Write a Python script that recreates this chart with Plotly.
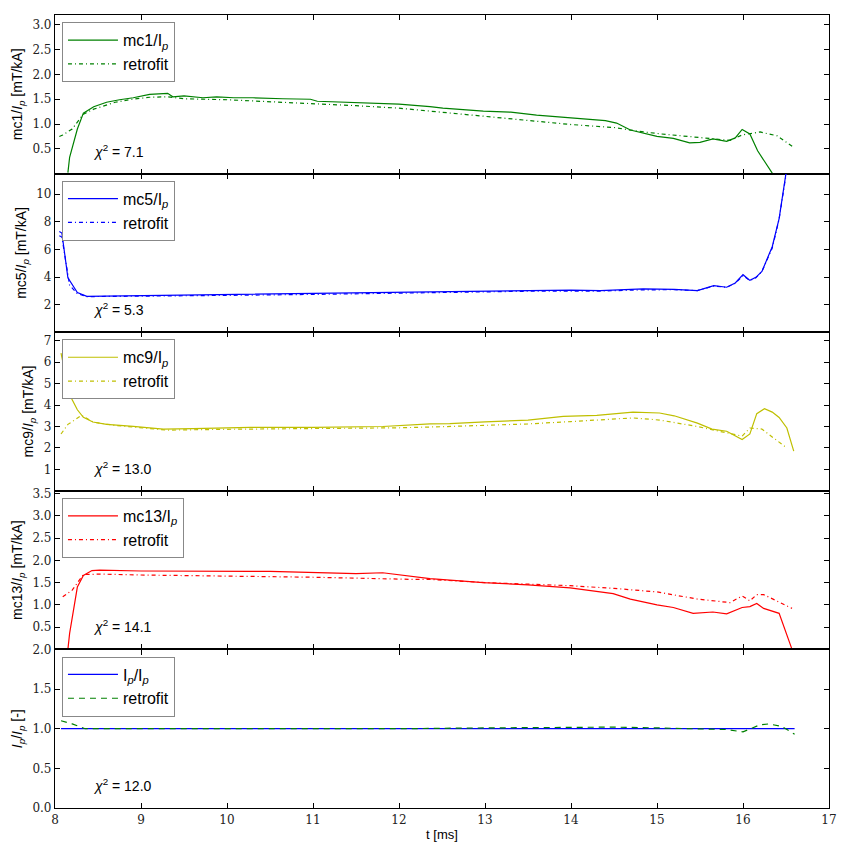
import plotly.graph_objects as go
from plotly.subplots import make_subplots

# ---------------- data ----------------
mc1_t = [8.15, 8.17, 8.26, 8.33, 8.45, 8.6, 8.75, 8.91, 9.1, 9.22, 9.31, 9.37, 9.5, 9.72, 9.88, 10.08,
         10.3, 10.65, 10.97, 11.05, 11.4, 11.82, 12.0, 12.36, 12.51, 12.98, 13.3, 13.6, 13.99, 14.2,
         14.4, 14.53, 14.69, 15.0, 15.19, 15.38, 15.5, 15.65, 15.81, 15.91, 15.99, 16.08, 16.17, 16.34]
mc1_v = [0.02, 0.33, 0.9, 1.22, 1.35, 1.44, 1.49, 1.53, 1.6, 1.61, 1.62, 1.55, 1.57, 1.53, 1.55, 1.53,
         1.53, 1.51, 1.5, 1.46, 1.44, 1.42, 1.4, 1.35, 1.32, 1.26, 1.24, 1.18, 1.12, 1.1,
         1.07, 1.02, 0.88, 0.75, 0.71, 0.62, 0.63, 0.7, 0.65, 0.72, 0.89, 0.8, 0.46, 0.01]
fit1_t = [8.05, 8.09, 8.2, 8.33, 8.45, 8.7, 8.9, 9.1, 9.3, 9.5, 10.0, 10.27, 10.6, 11.0, 11.5, 12.0,
          12.36, 12.9, 13.5, 14.0, 14.5, 14.69, 14.8, 15.05, 15.45, 15.65, 15.85, 15.99, 16.2, 16.4, 16.58]
fit1_v = [0.75, 0.78, 0.9, 1.2, 1.3, 1.44, 1.5, 1.54, 1.55, 1.51, 1.49, 1.47, 1.45, 1.41, 1.37, 1.32,
          1.26, 1.16, 1.07, 0.99, 0.93, 0.88, 0.85, 0.8, 0.74, 0.71, 0.67, 0.78, 0.84, 0.76, 0.54]

mc5_t = [8.05, 8.08, 8.15, 8.26, 8.37, 8.6, 9.0, 9.3, 10.0, 11.0, 12.0, 13.0, 13.5, 14.0, 14.34,
         14.84, 15.2, 15.47, 15.66, 15.81, 15.91, 16.0, 16.08, 16.15, 16.22, 16.34, 16.42, 16.5, 16.56]
mc5_v = [7.3, 7.19, 3.95, 2.88, 2.6, 2.62, 2.66, 2.68, 2.7, 2.78, 2.9, 3.0, 3.02, 3.05, 3.02,
         3.14, 3.1, 3.02, 3.38, 3.26, 3.57, 4.17, 3.76, 3.98, 4.41, 6.2, 8.24, 11.5, 14.0]
fit5_t = [8.05, 8.08, 8.17, 8.26, 8.37, 8.6, 9.0, 9.3, 10.0, 11.0, 12.0, 13.0, 13.5, 14.0, 14.34,
          14.84, 15.2, 15.47, 15.66, 15.81, 15.91, 16.0, 16.08, 16.15, 16.22, 16.34, 16.42, 16.5, 16.56]
fit5_v = [7.0, 6.9, 3.4, 2.8, 2.58, 2.6, 2.63, 2.65, 2.67, 2.74, 2.85, 2.95, 2.97, 2.98, 2.98,
          3.07, 3.08, 3.02, 3.35, 3.25, 3.55, 4.1, 3.75, 3.95, 4.4, 6.1, 8.2, 11.4, 14.0]

mc9_t = [8.07, 8.17, 8.26, 8.33, 8.44, 8.6, 8.91, 9.26, 9.6, 10.0, 10.27, 11.0, 11.81, 12.36, 12.59,
         13.0, 13.5, 13.91, 14.3, 14.72, 15.03, 15.2, 15.47, 15.64, 15.81, 15.99, 16.08, 16.16, 16.25,
         16.34, 16.42, 16.51, 16.59]
mc9_v = [6.42, 4.48, 3.78, 3.43, 3.21, 3.1, 3.01, 2.88, 2.9, 2.92, 2.96, 2.96, 3.0, 3.12, 3.13,
         3.22, 3.3, 3.47, 3.52, 3.67, 3.63, 3.5, 3.16, 2.88, 2.78, 2.39, 2.65, 3.6, 3.83,
         3.67, 3.42, 2.93, 1.85]
fit9_t = [8.07, 8.15, 8.31, 8.45, 8.7, 9.0, 9.3, 10.0, 11.0, 12.0, 12.5, 13.0, 13.5, 14.0, 14.72,
          15.03, 15.47, 15.85, 15.99, 16.08, 16.22, 16.38, 16.51]
fit9_v = [2.65, 3.1, 3.52, 3.2, 3.05, 2.93, 2.83, 2.87, 2.9, 2.94, 2.99, 3.05, 3.12, 3.23, 3.4,
          3.3, 3.0, 2.67, 2.55, 2.93, 2.88, 2.39, 2.0]

mc13_t = [8.15, 8.17, 8.26, 8.33, 8.43, 8.52, 9.0, 9.5, 10.0, 10.27, 10.5, 11.0, 11.5, 11.81, 12.2,
          12.36, 12.98, 13.5, 13.99, 14.49, 14.69, 15.0, 15.19, 15.42, 15.65, 15.81, 15.99, 16.08,
          16.16, 16.24, 16.42, 16.57]
mc13_v = [0.0, 0.36, 1.4, 1.66, 1.77, 1.78, 1.76, 1.75, 1.74, 1.75, 1.75, 1.73, 1.7, 1.72, 1.63,
          1.59, 1.5, 1.45, 1.38, 1.25, 1.13, 1.0, 0.94, 0.81, 0.84, 0.8, 0.94, 0.96,
          1.03, 0.92, 0.81, 0.0]
fit13_t = [8.09, 8.2, 8.33, 8.53, 9.0, 10.27, 11.0, 12.2, 12.36, 13.0, 13.5, 13.99, 14.5, 15.0,
           15.47, 15.85, 15.99, 16.08, 16.16, 16.24, 16.38, 16.57]
fit13_v = [1.18, 1.33, 1.68, 1.69, 1.67, 1.64, 1.62, 1.57, 1.57, 1.5, 1.47, 1.43, 1.37, 1.29,
           1.13, 1.05, 1.2, 1.09, 1.23, 1.23, 1.1, 0.92]

ip_t = [8.07, 16.6]
ip_v = [1.0, 1.0]
fitip_t = [8.07, 8.2, 8.35, 9.0, 10.0, 11.0, 12.0, 13.0, 14.0, 14.5, 15.0, 15.5, 15.8, 16.0, 16.1,
           16.2, 16.3, 16.45, 16.6]
fitip_v = [1.1, 1.06, 1.0, 1.0, 1.0, 1.0, 1.0, 1.01, 1.02, 1.02, 1.01, 1.0, 0.99, 0.96, 1.0,
           1.05, 1.06, 1.03, 0.93]

chi2 = ["7.1", "5.3", "13.0", "14.1", "12.0"]
names = ["mc1/I<sub><i>p</i></sub>", "mc5/I<sub><i>p</i></sub>", "mc9/I<sub><i>p</i></sub>",
         "mc13/I<sub><i>p</i></sub>", "I<sub><i>p</i></sub>/I<sub><i>p</i></sub>"]
ylabels = ["mc1/<i>I<sub>p</sub></i> [mT/kA]", "mc5/<i>I<sub>p</sub></i> [mT/kA]",
           "mc9/<i>I<sub>p</sub></i> [mT/kA]", "mc13/<i>I<sub>p</sub></i> [mT/kA]",
           "<i>I<sub>p</sub></i>/<i>I<sub>p</sub></i> [-]"]
yranges = [[0, 3.2], [0, 11.5], [0, 7.4], [0, 3.56], [0, 2.0]]
yticks = [[0.5, 1.0, 1.5, 2.0, 2.5, 3.0], [2, 4, 6, 8, 10], [1, 2, 3, 4, 5, 6, 7],
          [0.5, 1.0, 1.5, 2.0, 2.5, 3.0, 3.5], [0.0, 0.5, 1.0, 1.5, 2.0]]
ytickfmt = [".1f", "d", "d", ".1f", ".1f"]
xticks = [8, 9, 10, 11, 12, 13, 14, 15, 16, 17]

series = [
    (mc1_t, mc1_v, fit1_t, fit1_v, "#008000", "#008000"),
    (mc5_t, mc5_v, fit5_t, fit5_v, "#0000ff", "#0000ff"),
    (mc9_t, mc9_v, fit9_t, fit9_v, "#bfbf00", "#bfbf00"),
    (mc13_t, mc13_v, fit13_t, fit13_v, "#ff0000", "#ff0000"),
    (ip_t, ip_v, fitip_t, fitip_v, "#0000ff", "#008000"),
]

SANS = "Liberation Sans, Arial, sans-serif"
SERIF = "DejaVu Serif, serif"

# ---------------- figure ----------------
fig = make_subplots(rows=5, cols=1, shared_xaxes=True, vertical_spacing=0)

dashdot = "4px,3px,1px,3px"
for i, (t, v, ft, fv, c1, c2) in enumerate(series):
    row = i + 1
    lg = "legend" if i == 0 else f"legend{i + 1}"
    fig.add_trace(go.Scatter(x=t, y=v, mode="lines", name=names[i],
                             line=dict(color=c1, width=1.2), legend=lg), row=row, col=1)
    fig.add_trace(go.Scatter(x=ft, y=fv, mode="lines", name="retrofit",
                             line=dict(color=c2, width=1.2,
                                       dash=("6px,5px" if i == 4 else dashdot)),
                             legend=lg), row=row, col=1)
    top = 1 - 0.2 * i
    fig.layout[lg] = dict(x=0.009, y=top - 0.009, xanchor="left", yanchor="top",
                          bgcolor="white", bordercolor="#888888", borderwidth=1,
                          font=dict(family=SANS, size=16, color="black"),
                          itemwidth=50, tracegroupgap=2)
    fig.add_annotation(x=8.42, y=0.145, xref="x", yref=("y domain" if i == 0 else f"y{i + 1} domain"),
                       text="<i>χ</i><sup>2</sup> = " + chi2[i], showarrow=False,
                       xanchor="left", yanchor="middle",
                       font=dict(family=SANS, size=14, color="black"))
    fig.update_yaxes(row=row, col=1, range=yranges[i], tickvals=yticks[i], tickformat=ytickfmt[i],
                     title=dict(text=ylabels[i], standoff=6,
                                font=dict(family=SANS, size=14, color="black")),
                     showgrid=False, zeroline=False, showline=True, linecolor="black", linewidth=1.2,
                     mirror="ticks", ticks="inside", ticklen=5, tickcolor="black",
                     tickfont=dict(family=SERIF, size=12, color="#222222"))
    fig.update_xaxes(row=row, col=1, range=[8, 17], tickvals=xticks,
                     showgrid=False, zeroline=False, showline=True, linecolor="black", linewidth=1.2,
                     mirror="ticks", ticks="inside", ticklen=5, tickcolor="black",
                     tickfont=dict(family=SERIF, size=12, color="#222222"))

fig.update_xaxes(row=5, col=1, title=dict(text="t [ms]", standoff=4,
                 font=dict(family=SANS, size=13, color="black")))

fig.update_layout(width=846, height=853, margin=dict(l=55, r=17, t=8, b=45),
                  plot_bgcolor="white", paper_bgcolor="white", showlegend=True,
                  font=dict(color="black"))

fig.write_html("out.html")
